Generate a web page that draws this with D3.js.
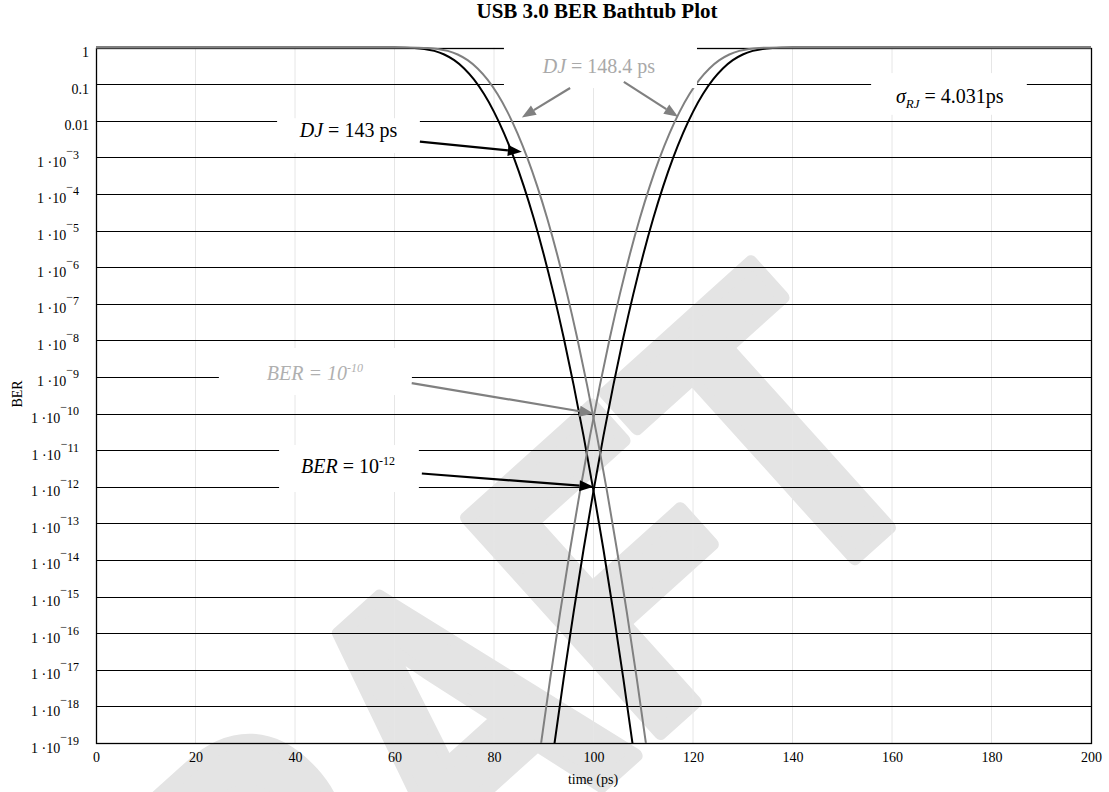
<!DOCTYPE html>
<html>
<head>
<meta charset="utf-8">
<script src="https://cdn.jsdelivr.net/npm/d3@7"></script>
<style>
  body { margin: 0; background: #fff; }
  svg { display: block; }
</style>
</head>
<body>
<script>
// ---- data -------------------------------------------------------------
const timeTicks = [0, 20, 40, 60, 80, 100, 120, 140, 160, 180, 200];
const berTicks = [1, 0.1, 0.01, 1e-3, 1e-4, 1e-5, 1e-6, 1e-7, 1e-8, 1e-9, 1e-10,
                  1e-11, 1e-12, 1e-13, 1e-14, 1e-15, 1e-16, 1e-17, 1e-18, 1e-19];

// DJ = 143 ps edges (black)
const tBlackLeft  = [0, 50, 56, 60, 62, 64, 66, 68, 70, 72, 74, 76, 78, 80, 82, 84,
                     86, 88, 90, 92, 94, 96, 98, 100, 102, 104, 106, 108, 110];
const tBlackRight = [200, 150, 144, 140, 138, 136, 134, 132, 130, 128, 126, 124, 122, 120, 118, 116,
                     114, 112, 110, 108, 106, 104, 102, 100, 98, 96, 94, 92, 90];
const berBlack = [1, 1, 0.99994, 0.99783, 0.99079, 0.9686, 0.9137, 0.8073, 0.6451, 0.4506,
                  0.2676, 0.1322, 0.05348, 0.01748, 0.004594, 9.65e-4, 1.609e-4, 2.13e-5,
                  2.23e-6, 1.83e-7, 1.19e-8, 6.09e-10, 2.45e-11, 7.74e-13, 1.93e-14,
                  3.72e-16, 5.70e-18, 6.84e-20, 6.4e-22];

// DJ = 148.4 ps edges (grey)
const tGrayLeft  = [0, 52.7, 58.7, 62.7, 64.7, 66.7, 68.7, 70.7, 72.7, 74.7, 76.7, 78.7, 80.7, 82.7, 84.7, 86.7,
                    88.7, 90.7, 92.7, 94.7, 96.7, 98.7, 100.7, 102.7, 104.7, 106.7, 108.7, 110.7, 112.7];
const tGrayRight = [200, 147.3, 141.3, 137.3, 135.3, 133.3, 131.3, 129.3, 127.3, 125.3, 123.3, 121.3, 119.3, 117.3, 115.3, 113.3,
                    111.3, 109.3, 107.3, 105.3, 103.3, 101.3, 99.3, 97.3, 95.3, 93.3, 91.3, 89.3, 87.3];
const berGray = [1, 1, 0.99994, 0.99783, 0.99079, 0.9686, 0.9137, 0.8073, 0.6451, 0.4506,
                 0.2676, 0.1322, 0.05348, 0.01748, 0.004594, 9.65e-4, 1.609e-4, 2.13e-5,
                 2.23e-6, 1.83e-7, 1.19e-8, 6.09e-10, 2.45e-11, 7.74e-13, 1.93e-14,
                 3.72e-16, 5.70e-18, 6.84e-20, 6.4e-22];

// annotation labels, anchored in data coordinates (time, BER)
const notes = [
  { color: "#a9a9a9", at: [101.1, 0.2], box: [82.0, 120.8, 2.0, 0.078],
    parts: [{ s: "DJ", i: true }, { s: " = 148.4 ps" }] },
  { color: "#000", at: [50.75, 0.00359], box: [36.4, 65.1, 0.0117, 0.00132],
    parts: [{ s: "DJ", i: true }, { s: " = 143 ps" }] },
  { color: "#000", at: [171.6, 0.030], box: [155.8, 187.1, 0.2, 0.0145],
    parts: [{ s: "σ", i: true }, { s: "RJ", i: true, sub: true }, { s: " = 4.031ps" }] },
  { color: "#b0b0b0", at: [44.0, 8.3e-10], box: [24.7, 63.5, 6.2e-9, 3.2e-10],
    parts: [{ s: "BER = 10", i: true }, { s: "-10", i: true, sup: true }] },
  { color: "#000", at: [50.65, 2.45e-12], box: [36.8, 64.9, 1.38e-11, 7.2e-13],
    parts: [{ s: "BER", i: true }, { s: " = 10" }, { s: "-12", sup: true }] }
];

const arrows = [
  { color: "#808080", from: [95.3, 0.078],  to: [85.6, 0.0123] },
  { color: "#808080", from: [106.1, 0.115], to: [117.0, 0.0129] },
  { color: "#000",    from: [65.1, 0.00269], to: [85.6, 0.00141] },
  { color: "#808080", from: [63.46, 6.8e-10], to: [100, 1e-10] },
  { color: "#000",    from: [65.5, 2.3e-12], to: [100, 1e-12] }
];

// ---- layout -----------------------------------------------------------
const W = 1109, H = 792;
const plot = { left: 96, right: 1091, top: 47.5, bottom: 743 };
const serif = "'Liberation Serif', 'Times New Roman', serif";

const x = d3.scaleLinear().domain([0, 200]).range([plot.left, plot.right]);
const y = d3.scaleLog().domain([1, 1e-19]).range([plot.top, plot.bottom]);

const svg = d3.select("body").append("svg")
  .attr("width", W).attr("height", H)
  .style("font-family", serif);

svg.append("rect").attr("width", W).attr("height", H).attr("fill", "#fff");

// watermark
svg.append("text")
  .attr("transform", "translate(948,474) rotate(-42) scale(0.8,1)")
  .attr("text-anchor", "end")
  .style("font-family", "'Liberation Sans', Arial, sans-serif")
  .style("font-weight", "bold")
  .style("font-size", "420px")
  .attr("fill", "#e4e4e4")
  .attr("stroke", "#e4e4e4")
  .attr("stroke-width", 14)
  .attr("stroke-linejoin", "round")
  .text("DRAFT");

// title
svg.append("text")
  .attr("x", 597).attr("y", 18)
  .attr("text-anchor", "middle")
  .style("font-weight", "bold")
  .style("font-size", "21px")
  .text("USB 3.0 BER Bathtub Plot");

// vertical grid
svg.append("g").selectAll("line").data(timeTicks.slice(1, -1)).join("line")
  .attr("x1", d => x(d)).attr("x2", d => x(d))
  .attr("y1", plot.top).attr("y2", plot.bottom)
  .attr("stroke", "#e6e6e6").attr("stroke-width", 1);

// horizontal grid
svg.append("g").selectAll("line").data(berTicks).join("line")
  .attr("x1", plot.left).attr("x2", plot.right)
  .attr("y1", d => Math.round(y(d)) + 0.5).attr("y2", d => Math.round(y(d)) + 0.5)
  .attr("stroke", "#000").attr("stroke-width", 1);

// frame
svg.append("rect")
  .attr("x", plot.left + 0.5).attr("y", Math.round(plot.top) + 0.5)
  .attr("width", plot.right - plot.left).attr("height", Math.round(plot.bottom) - Math.round(plot.top))
  .attr("fill", "none").attr("stroke", "#000").attr("stroke-width", 1.3);

// bathtub curves
svg.append("defs").append("clipPath").attr("id", "plotclip")
  .append("rect")
  .attr("x", plot.left).attr("y", plot.top - 1.5)
  .attr("width", plot.right - plot.left).attr("height", plot.bottom - plot.top + 1.5);

const line = d3.line().x(d => x(d.t)).y(d => y(d.ber)).curve(d3.curveMonotoneX);
const edge = (ts, bs) => ts.map((t, i) => ({ t, ber: bs[i] })).sort((a, b) => a.t - b.t);

const curves = [
  { pts: edge(tBlackLeft, berBlack),  color: "#000" },
  { pts: edge(tBlackRight, berBlack), color: "#000" },
  { pts: edge(tGrayLeft, berGray),    color: "#808080" },
  { pts: edge(tGrayRight, berGray),   color: "#808080" }
];
svg.append("g").attr("clip-path", "url(#plotclip)")
  .selectAll("path").data(curves).join("path")
  .attr("d", d => line(d.pts))
  .attr("fill", "none")
  .attr("stroke", d => d.color)
  .attr("stroke-width", 2);

// axes
const xAxis = svg.append("g")
  .attr("transform", `translate(0,${plot.bottom})`)
  .call(d3.axisBottom(x).tickValues(timeTicks).tickSize(0).tickPadding(9).tickFormat(d3.format("d")));
xAxis.select(".domain").remove();
xAxis.selectAll("text").style("font-family", serif).style("font-size", "14px").attr("fill", "#000");

const yAxis = svg.append("g")
  .attr("transform", `translate(${plot.left},0)`)
  .call(d3.axisLeft(y).tickValues(berTicks).tickSize(0).tickFormat(() => ""));
yAxis.select(".domain").remove();
yAxis.selectAll(".tick text").each(function (d) {
  const t = d3.select(this)
    .attr("dy", null).attr("y", 9)
    .style("font-family", serif).style("font-size", "14px").attr("fill", "#000");
  const e = Math.round(Math.log10(d));
  if (e >= -2) {
    t.attr("x", -7).text(d === 1 ? "1" : d.toString());
  } else {
    t.attr("x", -17);
    t.append("tspan").text("1 \u00B710");
    t.append("tspan").attr("dy", -12).style("font-size", "12px").text("\u2212");
    t.append("tspan").attr("dy", 4).style("font-size", "12px").text(String(-e));
  }
});

// axis titles
svg.append("text")
  .attr("x", 593).attr("y", 784)
  .attr("text-anchor", "middle")
  .style("font-size", "14px")
  .text("time (ps)");

svg.append("text")
  .attr("transform", "translate(22,394) rotate(-90)")
  .attr("text-anchor", "middle")
  .style("font-size", "14px")
  .text("BER");

// annotation boxes and labels
const noteG = svg.append("g");
notes.forEach(n => {
  const [t0, t1, b0, b1] = n.box;
  noteG.append("rect")
    .attr("x", x(t0)).attr("y", y(b0))
    .attr("width", x(t1) - x(t0)).attr("height", y(b1) - y(b0))
    .attr("fill", "#fff");
  const txt = noteG.append("text")
    .attr("x", x(n.at[0])).attr("y", y(n.at[1]))
    .attr("text-anchor", "middle")
    .style("font-size", "20px")
    .attr("fill", n.color);
  let shift = 0;
  n.parts.forEach(p => {
    const ts = txt.append("tspan").text(p.s);
    if (p.i) ts.style("font-style", "italic");
    let target = 0;
    if (p.sup) { ts.style("font-size", "12px"); target = -8; }
    if (p.sub) { ts.style("font-size", "13px"); target = 5; }
    if (target !== shift) { ts.attr("dy", target - shift); shift = target; }
  });
});

// arrows
const arrowG = svg.append("g");
arrows.forEach(a => {
  const x1 = x(a.from[0]), y1 = y(a.from[1]);
  const x2 = x(a.to[0]), y2 = y(a.to[1]);
  const len = Math.hypot(x2 - x1, y2 - y1);
  const ux = (x2 - x1) / len, uy = (y2 - y1) / len;
  const hl = 14, hw = 5.5;
  const bx = x2 - ux * hl, by = y2 - uy * hl;
  arrowG.append("line")
    .attr("x1", x1).attr("y1", y1).attr("x2", bx).attr("y2", by)
    .attr("stroke", a.color).attr("stroke-width", 2.2);
  arrowG.append("path")
    .attr("d", `M${x2},${y2}L${bx - uy * hw},${by + ux * hw}L${bx + uy * hw},${by - ux * hw}Z`)
    .attr("fill", a.color);
});
</script>
</body>
</html>
